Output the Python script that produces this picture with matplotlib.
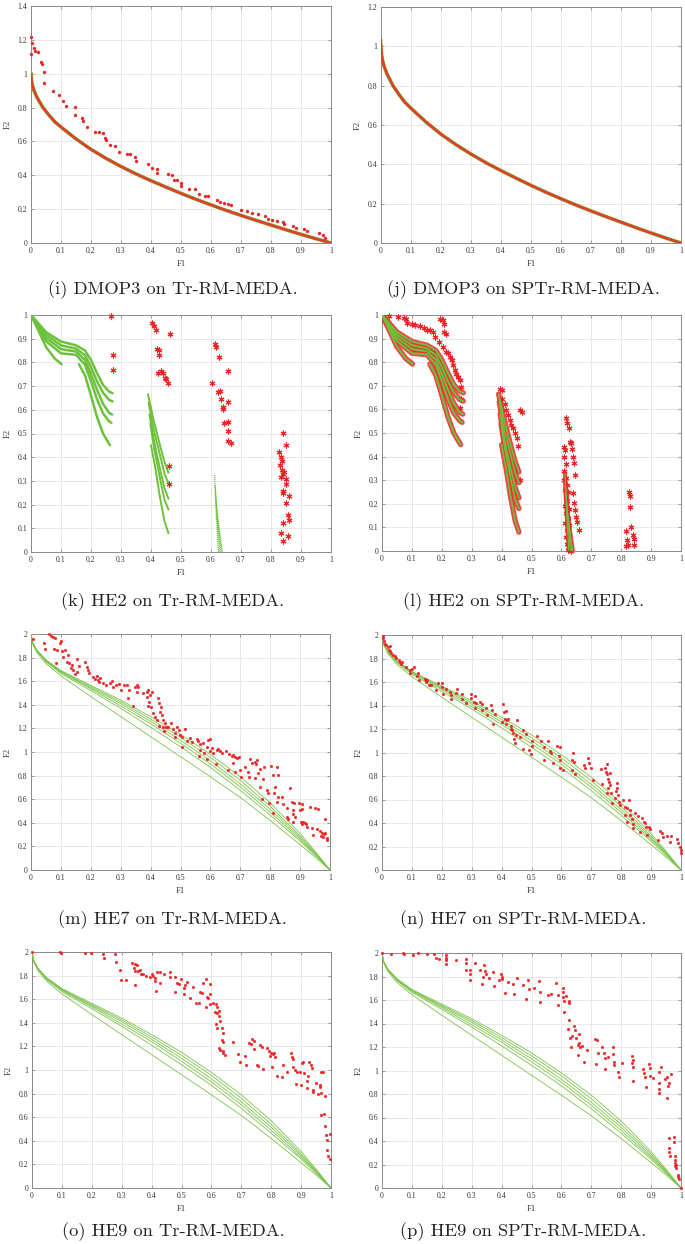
import matplotlib
matplotlib.use('Agg')
import matplotlib.pyplot as plt
from matplotlib.ticker import MultipleLocator, FuncFormatter

# ---------------- data ----------------
# DMOP3 true front
dmop3_f1 = [0, 0.002, 0.005, 0.01, 0.02, 0.04, 0.06, 0.08, 0.1, 0.15, 0.2, 0.25, 0.3, 0.35,
            0.4, 0.45, 0.5, 0.55, 0.6, 0.65, 0.7, 0.75, 0.8, 0.85, 0.9, 0.95, 1.0]
dmop3_f2 = [1.0, 0.955, 0.93, 0.9, 0.86, 0.8, 0.755, 0.715, 0.685, 0.615, 0.553, 0.5, 0.452, 0.408,
            0.368, 0.33, 0.293, 0.258, 0.225, 0.193, 0.163, 0.134, 0.106, 0.078, 0.051, 0.025, 0.0]
dmop3_sp_f1 = [0, 0, 0.002] + dmop3_f1[2:]
dmop3_sp_f2 = [1.03, 1.0, 0.955] + dmop3_f2[2:]

# DMOP3, Tr-RM-MEDA scattered solutions
i_pts = [(0, 1.115), (0, 1.219), (0.004, 1.183), (0.011, 1.154), (0.013, 1.136), (0.024, 1.126),
         (0.032, 1.071), (0.036, 1.057), (0.044, 1.012), (0.044, 0.945), (0.074, 0.895), (0.094, 0.874),
         (0.108, 0.84), (0.116, 0.808), (0.147, 0.805), (0.148, 0.755), (0.169, 0.74), (0.174, 0.72),
         (0.188, 0.686), (0.213, 0.657), (0.227, 0.657), (0.241, 0.647), (0.247, 0.623), (0.25, 0.611),
         (0.263, 0.578), (0.28, 0.574), (0.294, 0.538), (0.319, 0.528), (0.33, 0.524), (0.347, 0.509),
         (0.35, 0.485), (0.389, 0.469), (0.402, 0.444), (0.419, 0.44), (0.419, 0.414), (0.458, 0.41),
         (0.469, 0.4), (0.478, 0.375), (0.486, 0.371), (0.5, 0.355), (0.5, 0.335), (0.527, 0.321),
         (0.547, 0.317), (0.56, 0.288), (0.58, 0.276), (0.591, 0.276), (0.619, 0.252), (0.63, 0.243),
         (0.643, 0.239), (0.658, 0.233), (0.667, 0.227), (0.699, 0.197), (0.719, 0.189), (0.736, 0.177),
         (0.758, 0.174), (0.78, 0.158), (0.791, 0.144), (0.802, 0.134), (0.819, 0.13), (0.839, 0.124),
         (0.843, 0.11), (0.872, 0.099), (0.883, 0.091), (0.911, 0.085), (0.921, 0.069), (0.961, 0.061),
         (0.972, 0.045), (0.98, 0.032)]

# HE2 true front: three disconnected pieces, five time instants each
he2_seg1 = [
    ([0, 0.05, 0.1, 0.15, 0.18, 0.2, 0.22, 0.24, 0.26, 0.272],
     [1, 0.928, 0.888, 0.872, 0.85, 0.81, 0.755, 0.705, 0.677, 0.67]),
    ([0, 0.05, 0.1, 0.15, 0.18, 0.2, 0.22, 0.24, 0.26, 0.272],
     [1, 0.917, 0.872, 0.858, 0.83, 0.78, 0.72, 0.672, 0.642, 0.635]),
    ([0, 0.05, 0.1, 0.15, 0.18, 0.2, 0.22, 0.24, 0.26, 0.27],
     [1, 0.904, 0.856, 0.846, 0.81, 0.75, 0.685, 0.625, 0.588, 0.58]),
    ([0, 0.05, 0.1, 0.15, 0.18, 0.2, 0.22, 0.24, 0.26, 0.268],
     [1, 0.89, 0.838, 0.832, 0.79, 0.72, 0.645, 0.585, 0.552, 0.545]),
    ([0, 0.03, 0.05, 0.08, 0.1, 0.102],
     [1, 0.92, 0.865, 0.815, 0.795, 0.792]),
    ([0.16, 0.18, 0.2, 0.22, 0.24, 0.263],
     [0.792, 0.745, 0.66, 0.57, 0.5, 0.451]),
]
he2_seg2 = [
    ([0.39, 0.41, 0.43, 0.445, 0.458], [0.665, 0.55, 0.45, 0.38, 0.335]),
    ([0.392, 0.41, 0.43, 0.445, 0.458], [0.63, 0.51, 0.41, 0.33, 0.29]),
    ([0.395, 0.41, 0.43, 0.445, 0.458], [0.58, 0.47, 0.35, 0.27, 0.225]),
    ([0.398, 0.41, 0.43, 0.445, 0.458], [0.54, 0.44, 0.31, 0.22, 0.18]),
    ([0.40, 0.415, 0.43, 0.445, 0.458], [0.45, 0.35, 0.23, 0.13, 0.08]),
]
he2_seg3 = [
    ([0.612, 0.618, 0.625], [0.325, 0.15, 0.0]),
    ([0.614, 0.622, 0.630], [0.28, 0.12, 0.0]),
    ([0.615, 0.626, 0.634], [0.24, 0.1, 0.0]),
    ([0.616, 0.629, 0.638], [0.2, 0.08, 0.0]),
]

k_stars = [(0.267, 0.996), (0.272, 0.833), (0.272, 0.767), (0.402, 0.968), (0.41, 0.954), (0.416, 0.935),
           (0.419, 0.858), (0.426, 0.851), (0.428, 0.833), (0.424, 0.756), (0.433, 0.763), (0.439, 0.756),
           (0.447, 0.736), (0.45, 0.728), (0.458, 0.711), (0.462, 0.921), (0.461, 0.362), (0.46, 0.285),
           (0.613, 0.879), (0.617, 0.865), (0.626, 0.823), (0.604, 0.711), (0.623, 0.673), (0.63, 0.68),
           (0.632, 0.647), (0.639, 0.605), (0.641, 0.61), (0.656, 0.764), (0.658, 0.631), (0.643, 0.546),
           (0.656, 0.549), (0.658, 0.511), (0.658, 0.469), (0.667, 0.462),
           (0.839, 0.504), (0.849, 0.451), (0.828, 0.42), (0.833, 0.402), (0.837, 0.383), (0.83, 0.367),
           (0.837, 0.346), (0.841, 0.331), (0.844, 0.338), (0.833, 0.317), (0.85, 0.306), (0.85, 0.289),
           (0.841, 0.257), (0.841, 0.247), (0.861, 0.236), (0.849, 0.208), (0.858, 0.156), (0.861, 0.135),
           (0.841, 0.121), (0.833, 0.079), (0.857, 0.069), (0.841, 0.046)]

l_stars = [(0.0245, 0.996), (0.055, 0.992), (0.073, 0.989), (0.08, 0.985), (0.082, 0.966), (0.099, 0.963),
           (0.11, 0.956), (0.127, 0.952), (0.14, 0.945), (0.151, 0.938), (0.16, 0.935), (0.169, 0.928),
           (0.177, 0.907), (0.192, 0.886), (0.194, 0.985), (0.205, 0.98), (0.207, 0.963), (0.209, 0.928),
           (0.214, 0.921), (0.203, 0.865), (0.214, 0.844), (0.222, 0.837), (0.227, 0.823), (0.233, 0.808),
           (0.238, 0.787), (0.244, 0.766), (0.249, 0.752), (0.255, 0.738), (0.26, 0.724), (0.263, 0.693),
           (0.263, 0.646), (0.26, 0.604), (0.394, 0.685), (0.4, 0.682), (0.403, 0.642), (0.41, 0.625),
           (0.416, 0.597), (0.422, 0.576), (0.428, 0.555), (0.431, 0.534), (0.439, 0.52), (0.444, 0.499),
           (0.45, 0.477), (0.454, 0.446), (0.461, 0.597), (0.467, 0.59), (0.461, 0.301),
           (0.617, 0.562), (0.62, 0.544), (0.625, 0.522), (0.628, 0.463), (0.631, 0.456), (0.636, 0.432),
           (0.639, 0.4), (0.643, 0.372), (0.647, 0.323), (0.639, 0.245), (0.643, 0.203), (0.646, 0.175),
           (0.648, 0.146), (0.653, 0.125), (0.659, 0.09),
           (0.608, 0.44), (0.612, 0.43), (0.608, 0.40), (0.615, 0.37), (0.61, 0.34), (0.617, 0.31),
           (0.61, 0.3), (0.62, 0.28), (0.612, 0.26), (0.622, 0.25), (0.615, 0.23), (0.62, 0.21),
           (0.612, 0.19), (0.625, 0.18), (0.616, 0.16), (0.622, 0.14), (0.612, 0.12), (0.627, 0.11),
           (0.618, 0.09), (0.625, 0.07), (0.615, 0.06), (0.628, 0.04), (0.62, 0.03), (0.63, 0.01),
           (0.622, 0.005), (0.632, 0.0),
           (0.815, 0.083), (0.82, 0.045), (0.823, 0.027), (0.817, 0.02), (0.826, 0.248), (0.831, 0.231),
           (0.829, 0.186), (0.832, 0.101), (0.84, 0.069), (0.844, 0.051), (0.842, 0.027)]

# HE7 / HE9 true fronts (six time instants)
he_f1 = [0, 0.005, 0.02, 0.05, 0.1, 0.2, 0.3, 0.4, 0.5, 0.6, 0.7, 0.8, 0.9, 0.95, 1.0]
he_f2 = [
    [2.0, 1.93, 1.86, 1.78, 1.69, 1.565, 1.44, 1.30, 1.15, 0.98, 0.79, 0.57, 0.31, 0.16, 0.0],
    [2.0, 1.93, 1.86, 1.78, 1.685, 1.555, 1.425, 1.28, 1.125, 0.955, 0.76, 0.54, 0.29, 0.15, 0.0],
    [2.0, 1.93, 1.86, 1.775, 1.68, 1.545, 1.41, 1.26, 1.10, 0.925, 0.73, 0.515, 0.275, 0.14, 0.0],
    [2.0, 1.93, 1.855, 1.77, 1.675, 1.535, 1.39, 1.24, 1.075, 0.90, 0.705, 0.49, 0.26, 0.135, 0.0],
    [2.0, 1.93, 1.855, 1.765, 1.665, 1.52, 1.37, 1.21, 1.045, 0.87, 0.675, 0.465, 0.245, 0.125, 0.0],
    [2.0, 1.92, 1.84, 1.75, 1.645, 1.47, 1.30, 1.13, 0.96, 0.79, 0.615, 0.42, 0.215, 0.11, 0.0],
]

m_pts = [(0.008, 1.955), (0.045, 1.927), (0.047, 1.87), (0.061, 2.0), (0.066, 1.983), (0.072, 1.972),
         (0.08, 1.963), (0.077, 1.87), (0.088, 1.864), (0.099, 1.944), (0.097, 1.927), (0.084, 1.757),
         (0.103, 1.859), (0.114, 1.864), (0.106, 1.802), (0.125, 1.822), (0.119, 1.766), (0.128, 1.751),
         (0.136, 1.737), (0.133, 1.709), (0.142, 1.695), (0.153, 1.681), (0.155, 1.785), (0.162, 1.732),
         (0.147, 1.661), (0.181, 1.766), (0.188, 1.723), (0.195, 1.672), (0.192, 1.695), (0.208, 1.638),
         (0.214, 1.616), (0.222, 1.644), (0.225, 1.61), (0.229, 1.596), (0.231, 1.63), (0.242, 1.588),
         (0.251, 1.568), (0.264, 1.582), (0.27, 1.605), (0.273, 1.554), (0.284, 1.568), (0.294, 1.576),
         (0.3, 1.525), (0.311, 1.568), (0.322, 1.568), (0.326, 1.455), (0.329, 1.525), (0.348, 1.548),
         (0.354, 1.568), (0.359, 1.554), (0.356, 1.511), (0.34, 1.39), (0.376, 1.503), (0.387, 1.511),
         (0.392, 1.525), (0.404, 1.511), (0.398, 1.483), (0.387, 1.463), (0.395, 1.427), (0.4, 1.378),
         (0.392, 1.39), (0.409, 1.328), (0.415, 1.299), (0.42, 1.271), (0.426, 1.455), (0.429, 1.418),
         (0.435, 1.378), (0.431, 1.342), (0.437, 1.314), (0.443, 1.271), (0.448, 1.243), (0.452, 1.215),
         (0.429, 1.22), (0.44, 1.209), (0.445, 1.181), (0.459, 1.209), (0.467, 1.249), (0.474, 1.192),
         (0.482, 1.164), (0.489, 1.209), (0.496, 1.186), (0.482, 1.13), (0.498, 1.144), (0.504, 1.124),
         (0.515, 1.195), (0.504, 1.045), (0.521, 1.096), (0.532, 1.116), (0.537, 1.088), (0.554, 1.107),
         (0.56, 1.096), (0.565, 1.068), (0.576, 1.079), (0.588, 1.045), (0.593, 1.102), (0.599, 1.11),
         (0.565, 1.017), (0.563, 0.966), (0.58, 0.994), (0.589, 0.938), (0.599, 1.011), (0.604, 1.031),
         (0.61, 0.989), (0.618, 0.898), (0.621, 1.017), (0.627, 1.025), (0.632, 1.008), (0.638, 0.989),
         (0.652, 1.008), (0.66, 0.847), (0.663, 0.98), (0.671, 0.966), (0.677, 0.975), (0.682, 0.96),
         (0.677, 0.91), (0.688, 0.946), (0.697, 0.96), (0.682, 0.833), (0.699, 0.847), (0.702, 0.791),
         (0.716, 0.876), (0.727, 0.833), (0.73, 0.791), (0.732, 0.938), (0.738, 0.91), (0.749, 0.918),
         (0.753, 0.895), (0.757, 0.932), (0.76, 0.819), (0.749, 0.777), (0.766, 0.853), (0.766, 0.706),
         (0.777, 0.768), (0.78, 0.876), (0.771, 0.602), (0.788, 0.678), (0.794, 0.65), (0.797, 0.571),
         (0.802, 0.881), (0.808, 0.805), (0.813, 0.65), (0.808, 0.48), (0.816, 0.706), (0.822, 0.876),
         (0.825, 0.805), (0.827, 0.621), (0.822, 0.579), (0.838, 0.616), (0.842, 0.556), (0.857, 0.523),
         (0.857, 0.446), (0.861, 0.429), (0.866, 0.692), (0.872, 0.579), (0.875, 0.508), (0.88, 0.571),
         (0.877, 0.475), (0.875, 0.41), (0.883, 0.452), (0.897, 0.571), (0.905, 0.559), (0.9, 0.508),
         (0.905, 0.514), (0.902, 0.41), (0.905, 0.39), (0.911, 0.41), (0.918, 0.401), (0.92, 0.39),
         (0.924, 0.367), (0.933, 0.531), (0.939, 0.353), (0.942, 0.297), (0.95, 0.523), (0.955, 0.345),
         (0.961, 0.514), (0.967, 0.333), (0.969, 0.288), (0.972, 0.311), (0.978, 0.282), (0.98, 0.305),
         (0.983, 0.429), (0.983, 0.316), (0.989, 0.268), (0.991, 0.254)]

n_pts = [(0.003, 1.994), (0.003, 1.977), (0.006, 1.949), (0.009, 1.926), (0.015, 1.912), (0.02, 1.898),
         (0.026, 1.904), (0.023, 1.875), (0.028, 1.864), (0.031, 1.847), (0.037, 1.827), (0.042, 1.819),
         (0.048, 1.807), (0.057, 1.79), (0.061, 1.771), (0.068, 1.771), (0.065, 1.756), (0.081, 1.728),
         (0.093, 1.705), (0.102, 1.714), (0.106, 1.728), (0.093, 1.677), (0.121, 1.677), (0.117, 1.649),
         (0.124, 1.62), (0.143, 1.629), (0.146, 1.62), (0.151, 1.62), (0.146, 1.601), (0.157, 1.572),
         (0.165, 1.572), (0.182, 1.53), (0.188, 1.592), (0.199, 1.592), (0.199, 1.558), (0.204, 1.501),
         (0.215, 1.544), (0.227, 1.516), (0.232, 1.487), (0.232, 1.459), (0.251, 1.544), (0.249, 1.507),
         (0.269, 1.496), (0.266, 1.459), (0.28, 1.422), (0.296, 1.496), (0.297, 1.467), (0.307, 1.431),
         (0.311, 1.479), (0.31, 1.382), (0.316, 1.422), (0.327, 1.431), (0.333, 1.411), (0.333, 1.36),
         (0.349, 1.382), (0.352, 1.317), (0.366, 1.402), (0.369, 1.36), (0.372, 1.241), (0.377, 1.331),
         (0.4, 1.261), (0.405, 1.416), (0.407, 1.346), (0.411, 1.283), (0.416, 1.354), (0.419, 1.28),
         (0.414, 1.246), (0.422, 1.289), (0.43, 1.204), (0.433, 1.224), (0.436, 1.19), (0.439, 1.17),
         (0.441, 1.119), (0.444, 1.082), (0.448, 1.147), (0.453, 1.275), (0.461, 1.133), (0.47, 1.034),
         (0.472, 1.195), (0.483, 1.161), (0.492, 1.02), (0.497, 0.986), (0.5, 1.099), (0.503, 1.054),
         (0.517, 1.139), (0.533, 1.099), (0.541, 1.048), (0.541, 0.94), (0.556, 1.096), (0.561, 1.011),
         (0.564, 0.992), (0.573, 0.907), (0.586, 1.054), (0.595, 1.048), (0.593, 0.969), (0.595, 0.935),
         (0.595, 0.87), (0.606, 0.85), (0.634, 0.85), (0.637, 0.935), (0.639, 0.997), (0.642, 0.921),
         (0.646, 0.813), (0.676, 0.892), (0.679, 0.864), (0.69, 0.955), (0.693, 0.912), (0.698, 0.864),
         (0.706, 0.765), (0.734, 0.856), (0.737, 0.731), (0.746, 0.864), (0.749, 0.836), (0.753, 0.901),
         (0.751, 0.816), (0.757, 0.773), (0.762, 0.822), (0.76, 0.745), (0.762, 0.722), (0.757, 0.694),
         (0.753, 0.652), (0.765, 0.652), (0.768, 0.567), (0.779, 0.609), (0.782, 0.674), (0.785, 0.737),
         (0.787, 0.694), (0.79, 0.637), (0.794, 0.581), (0.796, 0.552), (0.807, 0.595), (0.812, 0.538),
         (0.818, 0.524), (0.812, 0.467), (0.818, 0.411), (0.827, 0.595), (0.829, 0.51), (0.831, 0.467),
         (0.835, 0.431), (0.838, 0.354), (0.84, 0.391), (0.846, 0.482), (0.855, 0.459), (0.863, 0.323),
         (0.868, 0.439), (0.876, 0.411), (0.879, 0.397), (0.883, 0.363), (0.885, 0.297), (0.894, 0.368),
         (0.896, 0.346), (0.924, 0.255), (0.93, 0.334), (0.935, 0.312), (0.941, 0.283), (0.954, 0.289),
         (0.963, 0.241), (0.968, 0.289), (0.985, 0.261), (0.991, 0.232), (0.997, 0.198), (0.999, 0.17),
         (1.0, 0.147)]

o_pts = [(0, 2.0), (0.095, 2.0), (0.097, 1.994), (0.178, 1.989), (0.198, 1.989), (0.237, 1.98), (0.241, 1.952),
         (0.276, 1.98), (0.282, 1.918), (0.293, 1.848), (0.297, 1.763), (0.314, 1.763), (0.334, 1.91),
         (0.345, 1.896), (0.351, 1.89), (0.342, 1.862), (0.345, 1.842), (0.353, 1.842), (0.343, 1.721),
         (0.362, 1.848), (0.364, 1.814), (0.371, 1.814), (0.382, 1.797), (0.395, 1.791), (0.401, 1.814),
         (0.406, 1.797), (0.412, 1.777), (0.412, 1.757), (0.418, 1.834), (0.415, 1.67), (0.429, 1.834),
         (0.427, 1.741), (0.44, 1.811), (0.46, 1.834), (0.462, 1.791), (0.479, 1.786), (0.479, 1.664),
         (0.484, 1.741), (0.49, 1.729), (0.498, 1.769), (0.507, 1.645), (0.509, 1.693), (0.512, 1.721),
         (0.518, 1.749), (0.527, 1.608), (0.538, 1.707), (0.549, 1.571), (0.557, 1.566), (0.562, 1.664),
         (0.568, 1.65), (0.573, 1.735), (0.594, 1.729), (0.594, 1.645), (0.582, 1.769), (0.585, 1.622),
         (0.582, 1.537), (0.587, 1.608), (0.596, 1.56), (0.607, 1.566), (0.616, 1.56), (0.62, 1.537),
         (0.612, 1.495), (0.618, 1.481), (0.624, 1.504), (0.627, 1.458), (0.616, 1.388), (0.618, 1.36),
         (0.629, 1.416), (0.635, 1.354), (0.64, 1.312), (0.635, 1.255), (0.64, 1.241), (0.624, 1.185),
         (0.629, 1.171), (0.638, 1.148), (0.646, 1.128), (0.638, 1.165), (0.671, 1.241), (0.69, 1.137),
         (0.696, 1.072), (0.713, 1.12), (0.716, 1.044), (0.727, 1.227), (0.732, 1.221), (0.735, 1.261),
         (0.741, 1.25), (0.743, 1.176), (0.752, 1.044), (0.757, 1.03), (0.763, 1.213), (0.768, 1.199),
         (0.774, 1.007), (0.785, 1.185), (0.791, 1.157), (0.796, 1.12), (0.798, 1.142), (0.802, 1.024),
         (0.807, 1.134), (0.81, 1.148), (0.813, 1.106), (0.821, 0.951), (0.835, 0.939), (0.839, 1.044),
         (0.852, 0.987), (0.866, 1.148), (0.869, 1.109), (0.872, 1.024), (0.874, 1.092), (0.88, 0.999),
         (0.882, 0.883), (0.885, 0.987), (0.896, 0.979), (0.9, 0.874), (0.902, 1.058), (0.908, 1.072),
         (0.911, 0.973), (0.919, 0.903), (0.921, 0.849), (0.924, 0.945), (0.928, 1.072), (0.932, 1.044),
         (0.935, 1.015), (0.939, 0.832), (0.941, 0.81), (0.95, 0.894), (0.958, 0.798), (0.963, 0.874),
         (0.966, 0.804), (0.963, 0.852), (0.967, 0.987), (0.974, 0.979), (0.966, 0.615), (0.98, 0.776),
         (0.977, 0.626), (0.98, 0.522), (0.983, 0.451), (0.988, 0.403), (0.985, 0.324), (0.991, 0.274),
         (0.997, 0.245), (0.997, 0.46)]

p_pts = [(0, 2.0), (0.031, 1.994), (0.07, 2.0), (0.073, 1.989), (0.104, 1.98), (0.121, 2.0), (0.149, 1.994),
         (0.174, 1.989), (0.182, 1.96), (0.19, 1.952), (0.213, 1.98), (0.213, 1.96), (0.213, 1.938),
         (0.213, 1.909), (0.249, 1.943), (0.28, 1.952), (0.28, 1.915), (0.28, 1.859), (0.294, 1.859),
         (0.294, 1.825), (0.294, 1.768), (0.311, 1.918), (0.327, 1.859), (0.338, 1.796), (0.336, 1.74),
         (0.342, 1.895), (0.345, 1.847), (0.347, 1.825), (0.359, 1.791), (0.37, 1.839), (0.374, 1.717),
         (0.392, 1.768), (0.398, 1.825), (0.4, 1.796), (0.4, 1.782), (0.413, 1.661), (0.422, 1.754),
         (0.439, 1.734), (0.441, 1.649), (0.45, 1.788), (0.47, 1.726), (0.482, 1.612), (0.489, 1.768),
         (0.49, 1.697), (0.509, 1.706), (0.525, 1.762), (0.528, 1.669), (0.528, 1.584), (0.556, 1.641),
         (0.564, 1.649), (0.582, 1.745), (0.587, 1.556), (0.59, 1.641), (0.607, 1.706), (0.607, 1.669),
         (0.607, 1.627), (0.609, 1.593), (0.609, 1.499), (0.616, 1.632), (0.627, 1.593), (0.627, 1.576),
         (0.627, 1.434), (0.623, 1.349), (0.629, 1.273), (0.631, 1.197), (0.637, 1.293), (0.642, 1.378),
         (0.644, 1.344), (0.649, 1.273), (0.654, 1.132), (0.655, 1.216), (0.659, 1.231), (0.66, 1.31),
         (0.663, 1.197), (0.668, 1.208), (0.676, 1.075), (0.687, 1.174), (0.713, 1.264), (0.718, 1.259),
         (0.715, 1.052), (0.724, 1.146), (0.735, 1.197), (0.741, 1.146), (0.746, 1.103), (0.746, 1.01),
         (0.755, 1.112), (0.774, 1.202), (0.774, 1.137), (0.777, 1.075), (0.777, 1.047), (0.788, 0.99),
         (0.791, 0.948), (0.802, 1.066), (0.836, 1.066), (0.838, 1.027), (0.836, 1.123), (0.839, 1.089),
         (0.841, 0.914), (0.873, 1.01), (0.877, 0.982), (0.88, 0.948), (0.884, 0.863), (0.892, 1.052),
         (0.895, 1.024), (0.895, 0.956), (0.908, 0.934), (0.925, 0.99), (0.925, 0.891), (0.925, 0.84),
         (0.925, 0.806), (0.933, 1.033), (0.947, 0.925), (0.953, 0.948), (0.955, 0.868), (0.953, 0.769),
         (0.959, 0.891), (0.966, 0.97), (0.959, 0.424), (0.959, 0.339), (0.961, 0.303), (0.962, 0.269),
         (0.978, 0.438), (0.978, 0.393), (0.979, 0.274), (0.981, 0.24), (0.979, 0.212), (0.981, 0.184),
         (0.983, 0.17), (0.984, 0.198), (0.989, 0.113), (0.99, 0.093), (0.992, 0.076), (1.0, 0.0)]

captions = ["(i) DMOP3 on Tr-RM-MEDA.", "(j) DMOP3 on SPTr-RM-MEDA.",
            "(k) HE2 on Tr-RM-MEDA.", "(l) HE2 on SPTr-RM-MEDA.",
            "(m) HE7 on Tr-RM-MEDA.", "(n) HE7 on SPTr-RM-MEDA.",
            "(o) HE9 on Tr-RM-MEDA.", "(p) HE9 on SPTr-RM-MEDA."]

# ---------------- drawing ----------------
W, H = 685, 1244
fig = plt.figure(figsize=(W / 100, H / 100), dpi=100)
fig.patch.set_facecolor('white')

GREEN = '#6cc13c'
RED = '#ec2424'
TICKFONT = 'Liberation Serif'


def ax_at(l, t, r, b):
    return fig.add_axes([l / W, 1 - b / H, (r - l) / W, (b - t) / H])


def fmt(v, p):
    return '%g' % round(v, 6)


def style(ax, ymax, ystep):
    ax.set_xlim(0, 1)
    ax.set_ylim(0, ymax)
    ax.xaxis.set_major_locator(MultipleLocator(0.1))
    ax.yaxis.set_major_locator(MultipleLocator(ystep))
    ax.xaxis.set_major_formatter(FuncFormatter(fmt))
    ax.yaxis.set_major_formatter(FuncFormatter(fmt))
    ax.grid(True, color='#e4e4e4', lw=0.6)
    ax.set_axisbelow(True)
    ax.tick_params(direction='in', length=2, width=0.5, colors='#777777',
                   labelcolor='#333333', labelsize=5.6, pad=2.8, top=True, right=True)
    for lab in ax.get_xticklabels() + ax.get_yticklabels():
        lab.set_fontfamily(TICKFONT)
    for s in ax.spines.values():
        s.set_color('#8a8a8a')
        s.set_linewidth(0.7)
    ax.set_xlabel('F1', fontsize=6.2, family=TICKFONT, color='#333333', labelpad=4)
    ax.set_ylabel('F2', fontsize=6.2, family=TICKFONT, color='#333333', labelpad=4)


def caption(ax, text, cy):
    pos = ax.get_position()
    cx = (pos.x0 + pos.x1) / 2 - 8 / W
    fig.text(cx, 1 - cy / H, text, ha='center', va='center', fontsize=13.3, family='cmr10',
             color='#222222')


def dots(ax, pts, ms=2.2):
    xs, ys = zip(*pts)
    ax.plot(xs, ys, ls='none', marker='o', ms=ms, mfc=RED, mec=RED, mew=0.2, zorder=4, clip_on=False)


def stars(ax, pts):
    xs, ys = zip(*pts)
    ax.plot(xs, ys, ls='none', marker=(6, 2, 0), ms=4.2, mec=RED, mew=0.8, zorder=4, clip_on=False)


# (i)
ax = ax_at(31, 6, 331, 243)
style(ax, 1.4, 0.2)
ax.plot(dmop3_f1, dmop3_f2, color=GREEN, lw=2.6, zorder=3)
ax.plot(dmop3_f1, dmop3_f2, color='#e0402a', lw=1.9, zorder=3)
dots(ax, i_pts)
caption(ax, captions[0], 290)

# (j)
ax = ax_at(381, 7, 681, 243)
style(ax, 1.2, 0.2)
ax.plot(dmop3_f1, dmop3_f2, color=GREEN, lw=2.6, zorder=3)
ax.plot(dmop3_sp_f1, dmop3_sp_f2, color='#e0402a', lw=1.9, zorder=3)
caption(ax, captions[1], 290)

# (k)
ax = ax_at(31, 315, 331, 552)
style(ax, 1.0, 0.1)
for x, y in he2_seg1:
    ax.plot(x, y, color=GREEN, lw=1.8, zorder=3, solid_capstyle='round')
for x, y in he2_seg2:
    ax.plot(x, y, color=GREEN, lw=1.4, zorder=3)
for x, y in he2_seg3:
    ax.plot(x, y, color=GREEN, lw=0.9, ls=(0, (1, 0.6)), zorder=3)
stars(ax, k_stars)
caption(ax, captions[2], 602)

# (l)
ax = ax_at(382, 315, 681, 551)
style(ax, 1.0, 0.1)
for x, y in he2_seg1 + he2_seg2:
    ax.plot(x, y, color='#ee3030', lw=3.8, zorder=3, alpha=0.9, solid_capstyle='round')
for x, y in he2_seg3:
    ax.plot(x, y, color='#ee3030', lw=3.0, zorder=3, alpha=0.9)
stars(ax, l_stars)
for x, y in he2_seg1:
    ax.plot(x, y, color=GREEN, lw=1.4, zorder=5)
for x, y in he2_seg2:
    ax.plot(x, y, color=GREEN, lw=1.2, zorder=5)
for x, y in he2_seg3:
    ax.plot(x, y, color=GREEN, lw=0.8, zorder=5)
caption(ax, captions[3], 602)

# (m) (n) (o) (p)
boxes = [(31, 634, 330, 870), (382, 635, 681, 870), (32, 952, 331, 1188), (382, 953, 681, 1188)]
pts_all = [m_pts, n_pts, o_pts, p_pts]
cap_y = [920, 920, 1232, 1232]
for k in range(4):
    ax = ax_at(*boxes[k])
    style(ax, 2.0, 0.2)
    for ys in he_f2:
        ax.plot(he_f1, ys, color='#7cc24a', lw=0.6, zorder=3)
    dots(ax, pts_all[k], ms=2.0)
    caption(ax, captions[4 + k], cap_y[k])

fig.savefig('out.png', dpi=100, facecolor='white')
